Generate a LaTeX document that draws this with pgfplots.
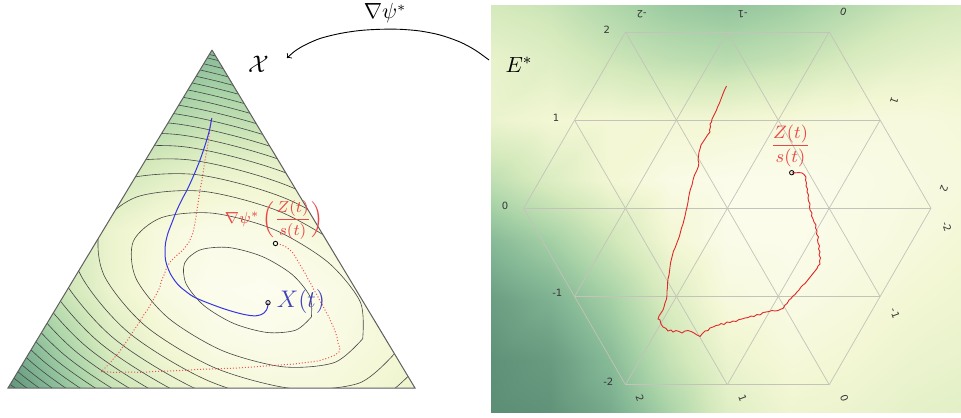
\documentclass[border=0pt]{standalone}
\usepackage{fontspec}
\newfontfamily\djv{DejaVu Sans}
\usepackage{pgfplots}
\pgfplotsset{compat=1.18}
\definecolor{cline}{RGB}{70,70,70}
\definecolor{tri}{RGB}{95,95,95}
\definecolor{bluec}{RGB}{55,55,225}
\definecolor{bluet}{RGB}{65,65,185}
\definecolor{redc}{RGB}{225,40,40}
\definecolor{redd}{RGB}{235,85,85}
\definecolor{redt}{RGB}{235,70,70}
\definecolor{gridc}{RGB}{195,195,185}
\definecolor{tickc}{RGB}{55,55,55}
\tikzset{tk/.style={tickc, inner sep=0pt, font=\djv\fontsize{5}{6}\selectfont}}
\begin{document}
\begin{tikzpicture}
\begin{axis}[
  width=480.5pt, height=208.5pt, scale only axis,
  xmin=0, xmax=961, ymin=0, ymax=417, y dir=reverse,
  hide axis, clip mode=individual,
  colormap={gy}{rgb255(0pt)=(253,253,240); rgb255(15pt)=(243,247,212); rgb255(35pt)=(212,233,188); rgb255(55pt)=(170,212,168); rgb255(75pt)=(130,182,148); rgb255(100pt)=(92,142,118)},
  point meta min=0, point meta max=1,
  cont/.style={cline, line width=0.3pt, smooth},
  hex/.style={gridc, line width=0.35pt},
]
% left background
\addplot[surf, shader=interp, mesh/cols=9, point meta=explicit] table[meta=c] {
x y c
8 50 0.80
60 50 0.80
110 50 0.80
160 50 0.78
212 50 0.72
262 50 0.75
312 50 0.80
362 50 0.85
415 50 0.90
8 110 0.70
60 110 0.65
110 110 0.60
160 110 0.55
212 110 0.48
262 110 0.50
312 110 0.55
362 110 0.60
415 110 0.65
8 170 0.60
60 170 0.50
110 170 0.40
160 170 0.30
212 170 0.22
262 170 0.20
312 170 0.25
362 170 0.30
415 170 0.35
8 230 0.60
60 230 0.42
110 230 0.20
160 230 0.10
212 230 0.05
262 230 0.06
312 230 0.10
362 230 0.15
415 230 0.20
8 290 0.70
60 290 0.40
110 290 0.20
160 290 0.08
212 290 0.02
262 290 0.00
312 290 0.03
362 290 0.08
415 290 0.15
8 340 0.82
60 340 0.55
110 340 0.30
160 340 0.15
212 340 0.06
262 340 0.04
312 340 0.05
362 340 0.10
415 340 0.15
8 388 0.97
60 388 0.68
110 388 0.42
160 388 0.25
212 388 0.14
262 388 0.10
312 388 0.10
362 388 0.14
415 388 0.20
};
% contour lines
\addplot[cont] coordinates {(311.4,316.9) (295.8,330.1) (267.4,332.5) (233.8,323.5) (204.0,305.6) (186.0,283.5) (184.6,263.1) (200.2,249.9) (228.6,247.5) (262.2,256.5) (292.0,274.4) (310.0,296.6) (311.4,316.9)};
\addplot[cont] coordinates {(362.7,338.7) (334.4,362.5) (283.1,366.8) (222.3,350.6) (168.4,318.1) (135.9,278.2) (133.3,241.3) (161.6,217.6) (212.9,213.2) (273.7,229.4) (327.6,261.9) (360.2,301.8) (362.7,338.7)};
\addplot[cont] coordinates {(395.4,352.6) (359.1,383.1) (293.1,388.7) (215.0,367.9) (145.7,326.2) (103.8,274.8) (100.6,227.4) (136.9,196.9) (202.9,191.3) (281.1,212.1) (350.3,253.8) (392.2,305.2) (395.4,352.6)};
\addplot[cont] coordinates {(420.5,363.2) (378.0,399.0) (300.8,405.6) (209.3,381.2) (128.3,332.3) (79.3,272.2) (75.5,216.8) (118.0,181.0) (195.2,174.5) (286.7,198.9) (367.7,247.7) (416.7,307.8) (420.5,363.2)};
\addplot[cont] coordinates {(442.5,372.5) (394.6,412.9) (307.5,420.2) (204.4,392.7) (113.0,337.7) (57.8,269.9) (53.6,207.5) (101.4,167.2) (188.5,159.8) (291.6,187.3) (383.0,242.3) (438.2,310.1) (442.5,372.5)};
\addplot[cont] coordinates {(462.1,380.9) (409.4,425.3) (313.5,433.4) (200.0,403.1) (99.4,342.5) (38.6,267.9) (33.9,199.1) (86.6,154.7) (182.5,146.6) (296.0,176.9) (396.6,237.5) (457.4,312.1) (462.1,380.9)};
\addplot[cont] coordinates {(480.2,388.6) (423.0,436.7) (319.0,445.5) (195.9,412.7) (86.8,347.0) (20.9,266.0) (15.8,191.5) (73.0,143.3) (177.0,134.5) (300.1,167.3) (409.2,233.0) (475.1,314.0) (480.2,388.6)};
\addplot[cont] coordinates {(496.9,395.6) (435.6,447.2) (324.1,456.7) (192.2,421.5) (75.3,351.1) (4.6,264.3) (-0.9,184.4) (60.4,132.8) (171.9,123.3) (303.8,158.5) (420.7,228.9) (491.4,315.7) (496.9,395.6)};
\addplot[cont] coordinates {(512.5,402.3) (447.4,457.1) (328.9,467.2) (188.7,429.8) (64.4,354.9) (-10.7,262.7) (-16.5,177.7) (48.6,122.9) (167.1,112.8) (307.3,150.2) (431.6,225.1) (506.7,317.3) (512.5,402.3)};
\addplot[cont] coordinates {(527.4,408.6) (458.6,466.5) (333.5,477.1) (185.4,437.6) (54.1,358.5) (-25.2,261.2) (-31.4,171.4) (37.4,113.5) (162.5,102.9) (310.6,142.4) (441.9,221.5) (521.2,318.9) (527.4,408.6)};
\addplot[cont] coordinates {(541.4,414.5) (469.2,475.4) (337.7,486.5) (182.2,445.0) (44.4,362.0) (-39.0,259.7) (-45.4,165.5) (26.8,104.6) (158.3,93.5) (313.8,135.0) (451.6,218.0) (535.0,320.3) (541.4,414.5)};
\addplot[cont] coordinates {(554.8,420.2) (479.3,483.8) (341.8,495.5) (179.2,452.1) (35.1,365.3) (-52.0,258.3) (-58.8,159.8) (16.7,96.2) (154.2,84.5) (316.8,127.9) (460.9,214.7) (548.0,321.7) (554.8,420.2)};
\addplot[cont] coordinates {(567.6,425.7) (489.0,492.0) (345.8,504.1) (176.3,458.9) (26.1,368.4) (-64.6,257.0) (-71.6,154.3) (7.0,88.1) (150.2,75.9) (319.7,121.1) (469.9,211.6) (560.6,323.0) (567.6,425.7)};
\addplot[cont] coordinates {(580.0,430.9) (498.3,499.8) (349.6,512.4) (173.6,465.4) (17.6,371.5) (-76.7,255.7) (-84.0,149.1) (-2.3,80.2) (146.4,67.6) (322.4,114.6) (478.4,208.5) (572.7,324.3) (580.0,430.9)};
\addplot[cont] coordinates {(591.9,436.0) (507.2,507.3) (353.2,520.3) (170.9,471.7) (9.3,374.4) (-88.3,254.5) (-95.9,144.0) (-11.2,72.7) (142.8,59.7) (325.1,108.3) (486.7,205.6) (584.3,325.5) (591.9,436.0)};
\addplot[cont] coordinates {(603.4,440.9) (515.9,514.6) (356.7,528.1) (168.3,477.8) (1.3,377.2) (-99.6,253.3) (-107.4,139.1) (-19.9,65.5) (139.3,52.0) (327.7,102.2) (494.7,202.8) (595.6,326.7) (603.4,440.9)};
\addplot[cont] coordinates {(614.5,445.6) (524.3,521.6) (360.1,535.5) (165.8,483.7) (-6.4,379.9) (-110.5,252.2) (-118.5,134.4) (-28.3,58.4) (135.9,44.5) (330.2,96.4) (502.4,200.1) (606.5,327.9) (614.5,445.6)};
\addplot[cont] coordinates {(625.4,450.2) (532.5,528.4) (363.4,542.8) (163.4,489.4) (-14.0,382.6) (-121.1,251.0) (-129.4,129.8) (-36.5,50.8) (132.6,41.2) (332.6,90.6) (509.9,198.6) (617.1,329.0) (625.4,450.2)};
% white covers outside the triangle and below the right panel
\addplot[fill=white, draw=none] coordinates {(-5,-5) (212,-5) (212,50) (8,388) (8,422) (-5,422)} -- cycle;
\addplot[fill=white, draw=none] coordinates {(212,-5) (496,-5) (496,422) (8,422) (8,388) (415,388) (212,50)} -- cycle;
\addplot[fill=white, draw=none] coordinates {(490,411) (966,411) (966,422) (490,422)} -- cycle;
% triangle outline
\addplot[tri, line width=0.5pt] coordinates {(212,50) (415,388) (8,388) (212,50)};
% arrow
\addplot[black, line width=0.45pt, smooth, ->] coordinates {(489,60) (475,50) (460,42) (440,35) (420,31) (400,29.3) (380,29.3) (360,30.5) (340,33.5) (320,38.5) (305,45) (295,51) (287,58)};
% right background
\addplot[surf, shader=interp, mesh/cols=9, point meta=explicit] table[meta=c] {
x y c
491 5 0.35
550 5 0.40
610 5 0.52
670 5 0.62
727 5 0.66
790 5 0.60
850 5 0.50
910 5 0.40
961 5 0.35
491 60 0.22
550 60 0.28
610 60 0.38
670 60 0.45
727 60 0.48
790 60 0.42
850 60 0.32
910 60 0.25
961 60 0.22
491 120 0.20
550 120 0.15
610 120 0.14
670 120 0.15
727 120 0.15
790 120 0.12
850 120 0.10
910 120 0.10
961 120 0.12
491 180 0.45
550 180 0.30
610 180 0.15
670 180 0.06
727 180 0.03
790 180 0.03
850 180 0.05
910 180 0.08
961 180 0.10
491 240 0.72
550 240 0.58
610 240 0.38
670 240 0.15
727 240 0.04
790 240 0.03
850 240 0.06
910 240 0.10
961 240 0.14
491 300 0.90
550 300 0.78
610 300 0.58
670 300 0.30
727 300 0.10
790 300 0.06
850 300 0.10
910 300 0.15
961 300 0.18
491 360 0.98
550 360 0.92
610 360 0.72
670 360 0.42
727 360 0.20
790 360 0.12
850 360 0.15
910 360 0.20
961 360 0.22
491 412 1.00
550 412 0.97
610 412 0.82
670 412 0.55
727 412 0.28
790 412 0.18
850 412 0.20
910 412 0.24
961 412 0.26
};
% hexagonal grid
\addplot[hex] coordinates {(625.5,31.9) (829.2,31.9)};
\addplot[hex] coordinates {(574.5,120.1) (880.1,120.1)};
\addplot[hex] coordinates {(523.6,208.3) (931.0,208.3)};
\addplot[hex] coordinates {(574.5,296.5) (880.1,296.5)};
\addplot[hex] coordinates {(625.5,384.7) (829.2,384.7)};
\addplot[hex] coordinates {(829.2,384.7) (931.0,208.3)};
\addplot[hex] coordinates {(727.3,384.7) (880.1,120.1)};
\addplot[hex] coordinates {(625.5,384.7) (829.2,31.9)};
\addplot[hex] coordinates {(574.5,296.5) (727.3,31.9)};
\addplot[hex] coordinates {(523.6,208.3) (625.5,31.9)};
\addplot[hex] coordinates {(931.0,208.3) (829.2,31.9)};
\addplot[hex] coordinates {(880.1,296.5) (727.3,31.9)};
\addplot[hex] coordinates {(829.2,384.7) (625.5,31.9)};
\addplot[hex] coordinates {(727.3,384.7) (574.5,120.1)};
\addplot[hex] coordinates {(625.5,384.7) (523.6,208.3)};
% right red path
\addplot[redc, line width=0.45pt] coordinates {(726.5,86) (724.5,90) (722.5,95) (721,99) (719.5,103) (718,106) (716.5,110) (715,113) (713.5,116) (712,119) (711.5,122) (710,124) (710.5,127) (709.5,130) (710,132) (707.5,135) (705,139) (703,142) (701,145) (700,149) (699,152) (698.5,156) (698,160) (698.8,163) (698.5,166) (697,170) (694.5,175) (693,180) (692,185) (690.5,189) (689.5,193) (688.5,198) (688,202) (687,207) (686,211) (685,216) (684,220) (683,224) (681.5,228) (680.5,232) (679.5,236) (678,240) (676.5,244) (675,248) (673.5,251) (672.5,255) (671.5,259) (670.5,263) (670,267) (669.5,271) (669,275) (668,279) (667.5,283) (667.5,287) (667,291) (667,295) (666.5,299) (665,303) (664,307) (663,310) (661,313) (659,316) (658,319) (660,320) (661,324) (663,327) (666,328.5) (668,331) (671,330) (673,332) (676,330.5) (679,331.5) (682,333) (685,331) (688,330.5) (691,331.5) (694,333) (697,335) (700,336.5) (702,334) (705,331) (708,330.5) (710,328) (713,327) (716,325.5) (719,325) (721,323.5) (724,324.5) (727,322) (730,322.5) (733,321) (736,321.5) (739,319.5) (742,319) (745,318) (748,317.5) (751,316) (754,316.5) (757,314.5) (760,315) (763,312.5) (766,312) (769,311.5) (772,310.5) (775,311) (778,310.5) (781,309) (783,308.5) (785,305) (787,303.5) (789,300) (791,298.5) (793,296) (795,294.5) (797,292) (799,290) (801,287) (803,285) (805,283.5) (807,281) (809,278.5) (811,276) (813,273.5) (815,271) (817,268.5) (818,266) (820,264) (819.5,261) (820.5,258) (819,255) (820,252) (818.5,249) (819.5,246) (818,243) (817.5,240) (818.5,237) (816.5,234) (817,231) (815.5,228) (816,225) (814,222) (813,219) (811.5,216) (812,213) (810,210) (809.5,207) (810,204) (808.5,201) (808,198) (808.5,195) (807,192) (807.5,189) (806,186) (806.5,183) (805.5,180) (806,177) (804,174.5) (802,173) (799,172.5) (796,172.8) (793,173) (791.7,172.7)};
% left curves
\addplot[redd, line width=0.5pt, densely dotted] coordinates {(212,118) (210,128) (208.5,140) (207,150) (205,160) (203.5,170) (202,180) (200,190) (198.5,200) (197,210) (195.5,220) (194,228) (193,233) (189,242) (183,250) (176,256) (170,262) (166.5,268) (164,275) (161,282) (160,287) (156,295) (152,302) (148,309) (143,316) (139,323) (134,330) (129,338) (124,345) (118.5,353) (114,358) (110,363) (106,367) (103,370) (101,371.5) (108,372) (118,372.5) (130,372) (142,372.5) (155,371.5) (168,371) (182,370.5) (196,369.5) (210,369) (224,368.5) (238,368) (252,367) (266,366) (280,365) (294,364) (306,362.5) (318,361) (328,358) (335,355) (339,352) (340,348) (338,343) (337,337) (335,331) (333,326) (331,322) (329,317) (326,312) (323,306) (320,301) (317,295) (314,290) (311,284) (308,279) (305,273) (302,268) (299,263) (296,258) (293,253) (290,250) (286,247) (282,245) (278,244) (275.5,243.5)};
\addplot[bluec, line width=0.5pt, smooth] coordinates {(211.7,118.3) (209.5,130) (206.7,140) (203.5,150) (200,160) (196,170) (191.7,180) (187,190) (181.7,200) (176.5,211) (171.7,223.3) (168,233) (165.5,243.3) (165,252) (165.5,260) (167.5,267) (170.5,274) (175,281) (180,286.7) (186,291.5) (193.3,296.7) (203,301) (213.3,305) (223,308.5) (233.3,311.7) (242,314) (250,315.5) (256,315.8) (260,315) (264,313) (266.5,310) (267.8,306) (268,302.7)};
% end markers
\addplot[only marks, mark=o, mark size=1.1pt, mark options={black, fill=white, line width=0.4pt}] coordinates {(268,302.7) (275.5,243.5) (791.7,172.7)};
% tick labels
\node[tk] at (axis cs:606.7,30) {2};
\node[tk] at (axis cs:556,117.7) {1};
\node[tk] at (axis cs:505,205.7) {0};
\node[tk] at (axis cs:557.3,293.3) {-1};
\node[tk] at (axis cs:608.3,381.7) {-2};
\node[tk, rotate=180] at (axis cs:641.7,14) {-2};
\node[tk, rotate=180] at (axis cs:742.7,14) {-1};
\node[tk, rotate=160] at (axis cs:843.3,12) {0};
\node[tk, rotate=-110] at (axis cs:894.3,100.7) {1};
\node[tk, rotate=-110] at (axis cs:944,189) {2};
\node[tk, rotate=-70] at (axis cs:946.7,226.7) {-2};
\node[tk, rotate=-70] at (axis cs:895,313.3) {-1};
\node[tk, rotate=-70] at (axis cs:640,398.3) {2};
\node[tk, rotate=-70] at (axis cs:742.7,398) {1};
\node[tk, rotate=-70] at (axis cs:844.3,398) {0};
% text labels
\node[bluet, inner sep=0pt, font=\fontsize{12}{14}\selectfont] at (axis cs:301,301.5) {$X(t)$};
\node[redt, inner sep=0pt, font=\fontsize{8}{10}\selectfont] at (axis cs:274,220) {$\nabla\psi^*\left(\displaystyle\frac{Z(t)}{s(t)}\right)$};
\node[redt, inner sep=0pt, font=\fontsize{9}{11}\selectfont] at (axis cs:790.5,146) {$\displaystyle\frac{Z(t)}{s(t)}$};
\node[black, inner sep=0pt, font=\fontsize{12}{14}\selectfont] at (axis cs:258.5,64) {$\mathcal{X}$};
\node[black, inner sep=0pt, font=\fontsize{11}{13}\selectfont] at (axis cs:519,65) {$E^*$};
\node[black, inner sep=0pt, anchor=base, font=\fontsize{10.5}{12}\selectfont] at (axis cs:385,19) {$\nabla\psi^*$};
\end{axis}
\pgfresetboundingbox
\path[use as bounding box] (0,0) rectangle (480.5pt,208.5pt);
\end{tikzpicture}
\end{document}
